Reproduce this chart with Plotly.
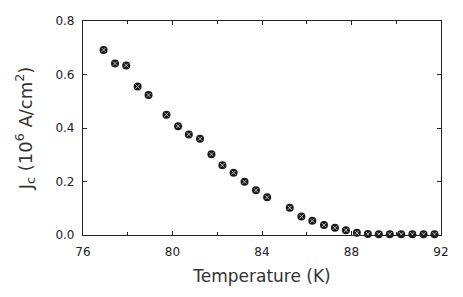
import plotly.graph_objects as go

temperature = [76.92, 77.43, 77.93, 78.44, 78.93, 79.73, 80.25, 80.73, 81.23, 81.74,
               82.23, 82.73, 83.22, 83.73, 84.23, 85.24, 85.76, 86.25, 86.77, 87.26,
               87.75, 88.24, 88.73, 89.22, 89.71, 90.22, 90.72, 91.22, 91.71]
jc = [0.692, 0.641, 0.634, 0.555, 0.523, 0.450, 0.407, 0.376, 0.360, 0.302,
      0.261, 0.233, 0.199, 0.167, 0.141, 0.102, 0.069, 0.053, 0.037, 0.027,
      0.018, 0.008, 0.004, 0.003, 0.003, 0.003, 0.003, 0.003, 0.003]

x_ticks = [76, 80, 84, 88, 92]
y_ticks = [0.0, 0.2, 0.4, 0.6, 0.8]
y_tick_text = ["0.0", "0.2", "0.4", "0.6", "0.8"]

font_family = "DejaVu Sans"

fig = go.Figure()
fig.add_trace(go.Scatter(
    x=temperature, y=jc, mode="markers",
    marker=dict(symbol="circle", size=8, color="#1a1a1a",
                line=dict(width=0)),
    hoverinfo="skip", showlegend=False, cliponaxis=False))
fig.add_trace(go.Scatter(
    x=temperature, y=jc, mode="markers",
    marker=dict(symbol="x-thin-open", size=4, color="#bbbbbb",
                line=dict(width=1, color="#bbbbbb")),
    hoverinfo="skip", showlegend=False, cliponaxis=False))

axis_common = dict(
    showgrid=False, zeroline=False, showline=True, linecolor="#222",
    linewidth=1.2, mirror="ticks", ticks="inside", ticklen=4,
    tickcolor="#222", tickfont=dict(family=font_family, size=12, color="#222"),
    ticklabeloverflow="allow",
)

# Page body keeps its default 8px margin, so the figure is sized to fit the
# 463x297 window exactly (no scrolling, no scaling).
fig.update_layout(
    width=447, height=281,
    margin=dict(l=75, r=8, t=6, b=54),
    paper_bgcolor="white", plot_bgcolor="white",
    xaxis=dict(range=[76, 92], tickvals=x_ticks, ticklabelstandoff=5,
               title=dict(text="Temperature (K)",
                          font=dict(family=font_family, size=17, color="#333"),
                          standoff=12),
               minor=dict(dtick=2, tick0=76, ticks="inside", ticklen=3, tickcolor="#222"),
               **axis_common),
    yaxis=dict(range=[0, 0.8], tickvals=y_ticks, ticktext=y_tick_text,
               ticklabelstandoff=5,
               title=dict(text="J<sub>c</sub> (10<sup>6</sup> A/cm<sup>2</sup>)",
                          font=dict(family=font_family, size=18, color="#333"),
                          standoff=18),
               **axis_common),
)

fig.write_html("out.html", config={"displayModeBar": False})
